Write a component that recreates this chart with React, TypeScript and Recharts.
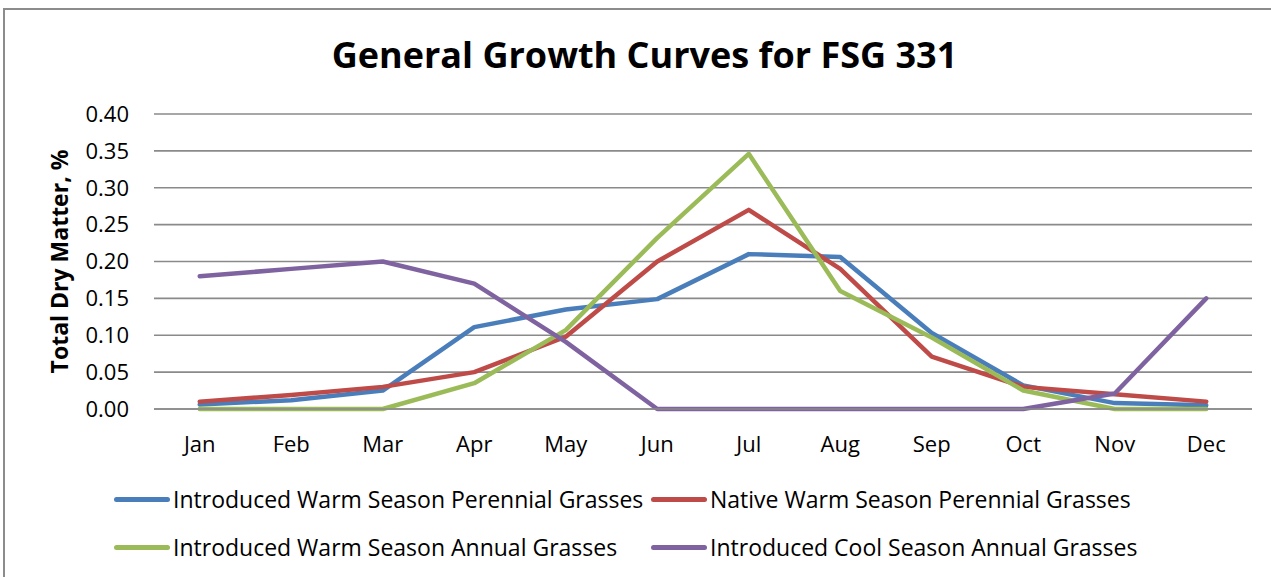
import React from "react";
import { LineChart, Line, XAxis, YAxis, CartesianGrid, Legend } from "recharts";

const months = ["Jan", "Feb", "Mar", "Apr", "May", "Jun", "Jul", "Aug", "Sep", "Oct", "Nov", "Dec"];
const introducedWarmPerennial = [0.006, 0.012, 0.025, 0.111, 0.135, 0.149, 0.21, 0.206, 0.103, 0.032, 0.008, 0.005];
const nativeWarmPerennial = [0.01, 0.019, 0.03, 0.05, 0.098, 0.2, 0.27, 0.19, 0.071, 0.03, 0.02, 0.01];
const introducedWarmAnnual = [0, 0, 0, 0.035, 0.107, 0.232, 0.346, 0.16, 0.097, 0.025, 0, 0];
const introducedCoolAnnual = [0.18, 0.19, 0.2, 0.17, 0.091, 0, 0, 0, 0, 0, 0.021, 0.15];
const yTicks = [0, 0.05, 0.1, 0.15, 0.2, 0.25, 0.3, 0.35, 0.4];

const seriesNames = [
  "Introduced Warm Season Perennial Grasses",
  "Native Warm Season Perennial Grasses",
  "Introduced Warm Season Annual Grasses",
  "Introduced Cool Season Annual Grasses",
];
const seriesKeys = ["iwp", "nwp", "iwa", "ica"];
const seriesColors = ["#4a7ebb", "#be4b48", "#9bbb59", "#7f63a1"];

const data = months.map((m, i) => ({
  month: m,
  iwp: introducedWarmPerennial[i],
  nwp: nativeWarmPerennial[i],
  iwa: introducedWarmAnnual[i],
  ica: introducedCoolAnnual[i],
}));

const FONT = "'Open Sans', Lato, sans-serif";

const legendPos = [
  { left: 114, top: 0 },
  { left: 651, top: 0 },
  { left: 114, top: 48 },
  { left: 651, top: 48 },
];

const renderLegend = () => (
  <div style={{ position: "relative", width: 1271, height: 100 }}>
    {seriesNames.map((name, i) => (
      <div
        key={name}
        style={{
          position: "absolute",
          left: legendPos[i].left,
          top: legendPos[i].top,
          display: "flex",
          alignItems: "center",
          height: 26,
          whiteSpace: "nowrap",
        }}
      >
        <div style={{ width: 56, height: 5, borderRadius: 2.5, background: seriesColors[i], marginRight: 3 }} />
        <span style={{ fontFamily: FONT, fontSize: 23, color: "#000" }}>{name}</span>
      </div>
    ))}
  </div>
);

export default function App() {
  return (
    <div style={{ position: "absolute", left: 0, top: 0, width: 1271, height: 577, background: "#fff", overflow: "hidden" }}>
      <div
        style={{
          position: "absolute",
          left: 3,
          top: 8,
          right: -5,
          bottom: -5,
          borderTop: "2px solid #8c8c8c",
          borderLeft: "2px solid #8c8c8c",
        }}
      />
      <div
        style={{
          position: "absolute",
          left: 0,
          top: 30,
          width: 1289,
          textAlign: "center",
          fontFamily: FONT,
          fontWeight: 700,
          fontSize: 36,
          color: "#000",
        }}
      >
        General Growth Curves for FSG 331
      </div>
      <div style={{ position: "absolute", left: 0, top: 0 }}>
        <LineChart width={1271} height={577} data={data} margin={{ top: 114, right: 19, left: 0, bottom: 0 }}>
          <CartesianGrid horizontal vertical={false} stroke="#8a8a8a" strokeWidth={1.6} />
          <XAxis
            dataKey="month"
            height={168}
            padding={{ left: 45.75, right: 45.75 }}
            axisLine={{ stroke: "#8a8a8a", strokeWidth: 1.6 }}
            tickLine={false}
            tickSize={0}
            tickMargin={27}
            tick={{ fontFamily: FONT, fontSize: 22, fill: "#000" }}
            interval={0}
          />
          <YAxis
            width={154}
            domain={[0, 0.4]}
            ticks={yTicks}
            tickFormatter={(v: number) => v.toFixed(2)}
            axisLine={false}
            tickLine={false}
            tickSize={0}
            tickMargin={25}
            tick={{ fontFamily: FONT, fontSize: 22, fill: "#000" }}
            label={{
              value: "Total Dry Matter, %",
              angle: -90,
              position: "insideLeft",
              offset: 60,
              style: { fontFamily: FONT, fontSize: 23, fontWeight: 700, fill: "#000", textAnchor: "middle" },
            }}
          />
          <Legend
            verticalAlign="middle"
            align="center"
            content={renderLegend}
            wrapperStyle={{ top: 486, left: 0, width: 1271 }}
          />
          {seriesKeys.map((k, i) => (
            <Line
              key={k}
              type="linear"
              dataKey={k}
              name={seriesNames[i]}
              stroke={seriesColors[i]}
              strokeWidth={4.5}
              strokeLinecap="round"
              strokeLinejoin="round"
              dot={false}
              activeDot={false}
              isAnimationActive={false}
            />
          ))}
        </LineChart>
      </div>
    </div>
  );
}
